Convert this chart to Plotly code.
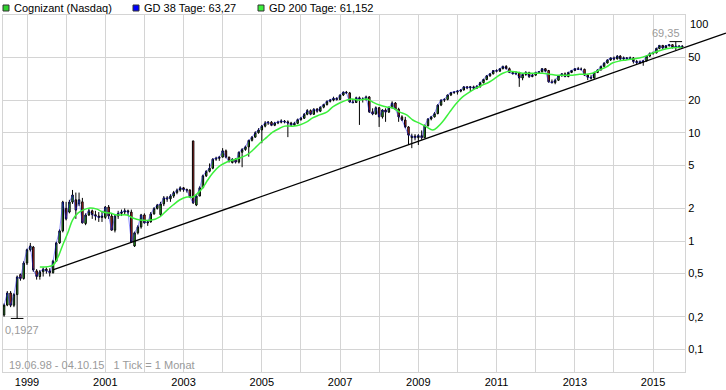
import math
import pandas as pd
import plotly.graph_objects as go

# ---------------- data (monthly candles, Jun 1998 - Oct 2015) ----------------
months = pd.date_range("1998-06-01", "2015-10-01", freq="MS")

open_ = [
    0.207, 0.256, 0.331, 0.255, 0.320, 0.490, 0.450,
    0.626, 0.830, 0.880, 0.530, 0.470, 0.520, 0.550, 0.530, 0.510, 0.650, 0.960, 1.240,
    2.000, 1.850, 2.290, 2.400, 2.200, 2.300, 1.450, 1.740, 1.900, 1.750, 1.700, 1.650,
    1.650, 2.060, 1.700, 1.260, 1.700, 1.800, 1.850, 1.900, 1.850, 0.900, 1.190, 1.350,
    1.740, 1.470, 1.500, 1.780, 2.000, 1.750, 2.200, 2.500, 2.450, 2.600, 2.800, 2.950,
    3.100, 2.980, 2.960, 8.400, 2.150, 2.600, 3.100, 4.000, 4.400, 4.700, 5.700, 5.800,
    5.950, 6.800, 5.950, 5.300, 5.700, 5.350, 6.600, 7.000, 7.400, 8.500, 9.100, 10.00,
    10.60, 11.50, 12.30, 12.50, 11.70, 12.30, 12.50, 12.80, 12.60, 12.30, 11.80, 12.20,
    13.20, 13.60, 14.80, 16.00, 14.80, 16.50, 15.80, 17.20, 18.20, 19.50, 20.00, 20.80,
    20.30, 22.30, 23.70, 23.30, 19.20, 19.00, 21.00, 20.50, 20.40, 21.40, 15.60, 14.90,
    17.00, 14.00, 16.20, 15.50, 17.00, 18.80, 16.50, 14.00, 13.10, 11.30, 9.000, 9.300,
    9.000, 9.400, 9.000, 11.60, 13.40, 14.00, 15.00, 18.00, 20.00, 20.30, 22.30, 23.50,
    23.70, 24.20, 24.80, 26.50, 26.00, 26.50, 25.80, 26.80, 29.00, 31.00, 33.50, 35.00,
    37.50, 37.00, 39.00, 41.00, 39.00, 36.00, 35.00, 35.50, 32.00, 34.50, 36.00, 33.00,
    34.00, 36.00, 36.50, 39.00, 37.50, 29.50, 29.00, 30.50, 33.50, 35.00, 33.00, 36.00,
    37.50, 39.00, 38.50, 38.50, 34.00, 32.50, 32.00, 36.00, 38.00, 41.00, 44.00, 47.00,
    49.00, 48.00, 51.00, 48.00, 49.00, 48.50, 49.00, 45.50, 44.50, 45.00, 46.00, 51.00,
    54.00, 54.50, 60.00, 64.00, 60.50, 63.50, 65.00, 61.00, 63.00, 62.00,
]
high = [
    0.265, 0.345, 0.345, 0.330, 0.480, 0.500, 0.650,
    0.850, 0.960, 0.900, 0.550, 0.540, 0.570, 0.570, 0.560, 0.670, 0.980, 1.280, 2.350,
    2.300, 2.400, 2.960, 2.800, 2.800, 2.500, 1.800, 2.000, 1.950, 1.900, 1.850, 1.900,
    2.100, 2.150, 1.800, 1.750, 1.900, 1.950, 2.000, 1.950, 1.950, 1.220, 1.400, 1.780,
    1.800, 1.550, 1.850, 2.050, 2.200, 2.300, 2.600, 2.600, 2.700, 2.900, 3.050, 3.200,
    3.150, 3.050, 3.000, 8.400, 2.700, 3.200, 4.100, 4.500, 5.200, 5.800, 6.000, 6.100,
    7.200, 7.000, 6.000, 5.800, 5.800, 6.700, 7.200, 7.600, 8.600, 9.300, 10.30, 11.00,
    11.80, 12.80, 12.80, 12.80, 12.60, 12.90, 13.30, 13.10, 13.00, 12.60, 12.60, 13.50,
    14.00, 15.20, 16.50, 16.40, 16.80, 16.90, 17.50, 18.50, 19.80, 20.50, 21.50, 21.20,
    22.50, 24.00, 24.30, 23.80, 20.50, 21.50, 21.60, 21.20, 22.00, 21.80, 16.80, 17.50,
    17.30, 16.50, 16.80, 17.50, 19.50, 19.20, 17.00, 14.50, 14.00, 11.50, 9.800, 9.700,
    9.700, 10.50, 11.90, 13.60, 14.30, 15.50, 18.30, 20.30, 20.80, 22.50, 23.80, 24.20,
    24.80, 25.20, 26.90, 27.00, 27.00, 27.20, 27.50, 29.50, 31.50, 34.00, 35.50, 37.80,
    38.50, 39.50, 41.50, 42.00, 40.00, 37.00, 37.00, 36.50, 35.00, 37.00, 36.50, 35.00,
    36.50, 37.00, 39.50, 39.50, 38.00, 31.00, 31.50, 34.00, 35.50, 36.00, 36.50, 38.00,
    39.50, 40.50, 40.00, 39.00, 34.50, 34.00, 36.50, 38.50, 41.50, 44.50, 47.50, 49.50,
    50.50, 52.00, 52.00, 50.50, 50.00, 50.50, 50.00, 47.00, 46.50, 47.00, 52.00, 55.00,
    56.00, 61.00, 64.50, 64.50, 64.50, 66.00, 65.50, 69.35, 64.50, 63.80,
]
low = [
    0.200, 0.250, 0.245, 0.245, 0.1927, 0.430, 0.440,
    0.600, 0.800, 0.520, 0.440, 0.440, 0.470, 0.500, 0.470, 0.500, 0.640, 0.940, 1.200,
    1.550, 1.800, 2.200, 1.600, 2.100, 1.450, 1.400, 1.700, 1.600, 1.550, 1.500, 1.500,
    1.600, 1.600, 1.250, 1.200, 1.600, 1.700, 1.750, 1.700, 0.960, 0.880, 1.150, 1.300,
    1.450, 1.380, 1.480, 1.750, 1.950, 1.700, 2.100, 2.300, 2.300, 2.500, 2.700, 2.850,
    2.850, 2.800, 2.500, 2.200, 2.100, 2.600, 3.100, 3.900, 4.300, 4.600, 5.500, 5.500,
    5.900, 5.800, 5.300, 5.200, 5.200, 5.200, 4.800, 6.800, 6.000, 8.300, 9.000, 9.800,
    8.000, 11.20, 11.80, 11.50, 11.50, 12.00, 12.20, 12.20, 9.100, 11.50, 11.60, 12.00,
    12.90, 13.40, 14.50, 14.50, 14.60, 15.30, 15.50, 16.80, 17.80, 19.00, 19.50, 19.80,
    20.00, 21.80, 22.80, 19.00, 18.60, 18.80, 11.80, 19.00, 19.80, 15.20, 14.50, 14.60,
    11.30, 13.50, 12.60, 15.20, 16.80, 16.20, 12.60, 12.80, 11.00, 7.700, 7.200, 8.500,
    7.700, 8.600, 8.900, 11.40, 13.00, 13.80, 14.80, 17.60, 19.20, 19.90, 21.80, 22.80,
    22.50, 23.60, 24.50, 25.20, 24.00, 25.00, 25.30, 26.00, 28.50, 30.50, 32.80, 34.50,
    36.00, 36.50, 38.50, 38.50, 35.50, 34.50, 34.00, 26.50, 30.50, 33.50, 32.00, 32.50,
    33.50, 35.00, 36.00, 36.50, 29.00, 28.50, 28.00, 30.00, 33.00, 32.50, 32.50, 35.50,
    37.00, 38.00, 37.50, 33.50, 30.60, 31.00, 31.50, 35.50, 37.50, 40.50, 43.50, 46.00,
    46.50, 47.50, 47.00, 46.50, 47.00, 47.50, 43.50, 43.00, 43.00, 41.50, 45.50, 50.00,
    52.50, 54.00, 59.00, 59.50, 60.00, 62.50, 60.00, 58.00, 60.00, 61.50,
]
close = [
    0.256, 0.331, 0.255, 0.320, 0.465, 0.450, 0.626,
    0.830, 0.900, 0.540, 0.470, 0.520, 0.550, 0.530, 0.510, 0.650, 0.960, 1.240, 2.290,
    1.600, 2.290, 2.660, 1.930, 2.400, 1.470, 1.740, 1.900, 1.750, 1.700, 1.650, 1.700,
    2.060, 1.700, 1.260, 1.700, 1.800, 1.850, 1.900, 1.850, 0.980, 1.190, 1.350, 1.740,
    1.470, 1.500, 1.780, 2.000, 2.150, 2.200, 2.500, 2.450, 2.600, 2.800, 2.950, 3.100,
    2.980, 2.950, 2.550, 2.250, 2.600, 3.100, 4.000, 4.400, 4.700, 5.700, 5.800, 5.950,
    6.800, 5.950, 5.450, 5.700, 5.350, 6.600, 7.000, 7.400, 8.500, 9.100, 10.00, 10.60,
    11.50, 12.30, 12.50, 11.70, 12.30, 12.50, 12.80, 12.60, 12.30, 11.80, 12.20, 13.20,
    13.60, 14.80, 16.00, 14.80, 16.50, 15.80, 17.20, 18.20, 19.50, 20.00, 20.80, 20.30,
    22.30, 23.70, 23.30, 19.20, 19.00, 21.00, 20.50, 20.40, 21.40, 15.60, 14.90, 17.00,
    14.00, 16.20, 15.50, 17.00, 18.80, 16.50, 14.00, 13.10, 11.30, 9.500, 9.300, 9.000,
    9.400, 9.000, 11.60, 13.40, 14.00, 15.00, 18.00, 20.00, 20.30, 22.30, 23.50, 23.70,
    24.20, 24.80, 26.50, 26.00, 26.50, 25.80, 26.80, 29.00, 31.00, 33.50, 35.00, 37.50,
    37.00, 39.00, 41.00, 39.00, 36.00, 35.00, 35.50, 32.00, 34.50, 36.00, 33.00, 34.00,
    36.00, 36.50, 39.00, 37.00, 29.50, 29.00, 30.50, 33.50, 35.00, 33.00, 36.00, 37.50,
    39.00, 38.50, 38.50, 34.00, 32.50, 32.00, 36.00, 38.00, 41.00, 44.00, 47.00, 49.00,
    48.00, 51.00, 48.00, 49.00, 48.50, 49.00, 45.50, 44.50, 45.00, 46.00, 51.00, 54.00,
    54.50, 60.00, 64.00, 60.50, 63.50, 65.00, 61.00, 63.00, 62.00, 63.00,
]

# GD 200 (200-day average)
gd200_dates = [
    "1999-05-01", "1999-09-01", "1999-10-15", "1999-12-01", "2000-01-20", "2000-03-01",
    "2000-04-20", "2000-06-05", "2000-08-10", "2000-10-15", "2000-12-10", "2001-02-15",
    "2001-04-20", "2001-07-20", "2001-09-15", "2001-11-20", "2002-03-10", "2002-05-25",
    "2002-08-01", "2002-09-25", "2002-11-25", "2003-02-01", "2003-03-28", "2003-05-15",
    "2003-06-28", "2003-08-15", "2003-10-01", "2003-12-05", "2004-02-10", "2004-04-05",
    "2004-06-10", "2004-08-15", "2004-10-10", "2004-12-15", "2005-02-18", "2005-04-12",
    "2005-06-18", "2005-08-04", "2005-10-15", "2005-12-20", "2006-02-25", "2006-04-20",
    "2006-06-25", "2006-08-30", "2006-10-25", "2006-12-28", "2007-03-03", "2007-04-20",
    "2007-07-01", "2007-09-05", "2007-11-01", "2008-01-05", "2008-03-10", "2008-05-08",
    "2008-07-12", "2008-09-14", "2008-11-10", "2009-01-15", "2009-03-18", "2009-05-15",
    "2009-07-01", "2009-08-15", "2009-10-20", "2009-12-25", "2010-02-18", "2010-04-23",
    "2010-06-28", "2010-08-22", "2010-10-26", "2011-01-01", "2011-02-28", "2011-05-01",
    "2011-07-05", "2011-09-01", "2011-11-03", "2012-01-08", "2012-03-06", "2012-05-10",
    "2012-07-13", "2012-09-08", "2012-12-10", "2013-02-13", "2013-04-19", "2013-06-14",
    "2013-08-18", "2013-10-23", "2013-12-17", "2014-02-20", "2014-04-27", "2014-06-21",
    "2014-08-25", "2014-10-30", "2014-12-28", "2015-03-01", "2015-05-05", "2015-07-01",
    "2015-10-01",
]
gd200 = [
    0.575, 0.60, 0.70, 0.92, 1.21, 1.56,
    1.81, 1.93, 2.02, 1.97, 1.85, 1.81,
    1.74, 1.74, 1.63, 1.56, 1.56, 1.67,
    1.93, 2.15, 2.39, 2.55, 2.55, 2.77,
    3.09, 3.66, 4.25, 4.93, 5.37, 5.59,
    5.84, 6.23, 6.92, 8.03, 9.10, 10.1,
    11.0, 11.5, 11.5, 11.8, 12.6, 13.7,
    14.6, 15.5, 17.3, 18.8, 20.0, 20.5,
    20.0, 20.5, 19.2, 18.0, 17.3, 16.9,
    15.5, 14.6, 13.1, 12.2, 11.3, 10.6,
    11.3, 12.6, 15.5, 18.8, 21.4, 23.7,
    25.9, 27.5, 29.4, 32.6, 35.4, 37.0,
    36.3, 35.4, 35.4, 35.4, 35.4, 34.7,
    34.0, 34.0, 34.0, 34.7, 34.7, 35.4,
    37.9, 40.5, 44.0, 45.9, 46.9, 47.9,
    48.9, 51.2, 54.5, 57.2, 59.6, 61.0,
    61.15,
]

# support trend line (two anchor points; it runs past the plot's right edge)
trend_dates = ["1999-08-30", "2016-11-11"]
trend_vals = [0.540, 83.3]

year_ticks = [f"{y}-01-01" for y in range(1999, 2016)]
year_labels = [str(y) if y % 2 == 1 else "" for y in range(1999, 2016)]
y_ticks = [0.1, 0.2, 0.5, 1, 2, 5, 10, 20, 50]
y_labels = ["0,1", "0,2", "0,5", "1", "2", "5", "10", "20", "50"]

legend_names = ["Cognizant (Nasdaq)", "GD 38 Tage: 63,27", "GD 200 Tage: 61,152"]
range_text = "19.06.98 - 04.10.15   1 Tick = 1 Monat"

# ---------------- styles / layout ----------------
UP = "#2fd12f"
DOWN = "#ee3131"
GD200_C = "#3cf03c"
GD38_C = "#1a1aff"
GRID = "#d4d4d4"
FONT = "Liberation Sans, Arial, sans-serif"
W, H = 726, 390
L, R, T, B = 3, 41, 15, 18
PW = W - L - R
PH = H - T - B
XR = ["1998-05-22", "2015-10-26"]
YR = [-1.2096, 2.0868]


def px(xp):
    return (xp - L) / PW


def py(yp):
    return (H - B - yp) / PH


fig = go.Figure()

fig.add_trace(go.Candlestick(
    x=months, open=open_, high=high, low=low, close=close,
    increasing=dict(fillcolor=UP, line=dict(color="black", width=1)),
    decreasing=dict(fillcolor=DOWN, line=dict(color="black", width=1)),
    whiskerwidth=0, showlegend=False))

fig.add_trace(go.Scatter(x=months, y=close, mode="lines",
                         line=dict(color=GD38_C, width=0.8), opacity=0.6,
                         hoverinfo="skip", showlegend=False))

fig.add_trace(go.Scatter(x=gd200_dates, y=gd200, mode="lines",
                         line=dict(color=GD200_C, width=1.5, shape="spline"),
                         hoverinfo="skip", showlegend=False))

imax = max(range(len(high)), key=lambda i: high[i])
imin = min(range(len(low)), key=lambda i: low[i])
fig.add_trace(go.Scatter(x=[months[imax], months[imin]], y=[high[imax], low[imin]],
                         mode="markers",
                         marker=dict(symbol="line-ew", size=9,
                                     line=dict(color="black", width=1)),
                         hoverinfo="skip", showlegend=False))

# trend line inside the plot (clipped at the frame)
fig.add_trace(go.Scatter(x=trend_dates, y=trend_vals, mode="lines",
                         line=dict(color="black", width=1.3),
                         hoverinfo="skip", showlegend=False))

axis_font = dict(family=FONT, size=11, color="black")
fig.update_layout(
    width=W, height=H,
    margin=dict(l=L, r=R, t=T, b=B, pad=0),
    paper_bgcolor="white", plot_bgcolor="white",
    showlegend=False,
    font=dict(family=FONT, size=11, color="black"),
    boxgap=0.3,
    xaxis=dict(type="date", range=XR,
               tickvals=year_ticks, ticktext=year_labels, tickfont=axis_font,
               showgrid=True, gridcolor=GRID, gridwidth=1,
               showline=True, mirror=True, linecolor=GRID, linewidth=1,
               ticks="", zeroline=False, rangeslider=dict(visible=False)),
    yaxis=dict(type="log", range=YR, side="right",
               tickvals=y_ticks, ticktext=y_labels, tickfont=axis_font,
               showgrid=True, gridcolor=GRID, gridwidth=1,
               showline=True, mirror=True, linecolor=GRID, linewidth=1,
               ticks="", zeroline=False),
)

# trend-line continuation beyond the frame (log-linear extension of the same line)
t0 = pd.Timestamp(trend_dates[0])
t1 = pd.Timestamp(trend_dates[1])
xa0, xa1 = pd.Timestamp(XR[0]), pd.Timestamp(XR[1])


def trend_log(t):
    f = (t - t0) / (t1 - t0)
    return math.log10(trend_vals[0]) + f * (math.log10(trend_vals[1]) - math.log10(trend_vals[0]))


def paper_x(t):
    return (t - xa0) / (xa1 - xa0)


def paper_y(lv):
    return (lv - YR[0]) / (YR[1] - YR[0])


shapes = [dict(type="line", xref="paper", yref="paper",
               x0=paper_x(xa1), y0=paper_y(trend_log(xa1)),
               x1=paper_x(t1), y1=paper_y(trend_log(t1)),
               line=dict(color="black", width=1.3))]

ann = []
ann.append(dict(text="100", xref="paper", x=px(688), xanchor="left",
                yref="y", y=2, yanchor="middle", showarrow=False, font=axis_font))
ann.append(dict(text=f"{high[imax]:.2f}".replace(".", ","), xref="x", x=months[imax],
                yref="y", y=math.log10(high[imax]), xanchor="center", xshift=-10,
                yanchor="bottom", yshift=1, showarrow=False,
                font=dict(family=FONT, size=11, color="#9a9a9a")))
ann.append(dict(text=f"{low[imin]:.4f}".replace(".", ","), xref="x", x=months[imin],
                yref="y", y=math.log10(low[imin]), xanchor="center", xshift=5,
                yanchor="top", yshift=-4, showarrow=False,
                font=dict(family=FONT, size=11, color="#9a9a9a")))
ann.append(dict(text=range_text, xref="paper", x=px(7), xanchor="left",
                yref="paper", y=py(365), yanchor="middle", showarrow=False,
                font=dict(family=FONT, size=11, color="#9a9a9a")))

# legend
leg_x = [3, 133, 258]
leg_cols = [UP, "#0000ff", GD200_C]
for lx, col, name in zip(leg_x, leg_cols, legend_names):
    shapes.append(dict(type="rect", xref="paper", yref="paper",
                       x0=px(lx), x1=px(lx + 6), y0=py(11), y1=py(5),
                       fillcolor=col, line=dict(color="#333333", width=1)))
    ann.append(dict(text=name, xref="paper", x=px(lx + 9), xanchor="left",
                    yref="paper", y=py(8), yanchor="middle", showarrow=False,
                    font=dict(family=FONT, size=11, color="black")))

fig.update_layout(annotations=ann, shapes=shapes)
fig.write_html("out.html", config={"displayModeBar": False},
               post_script="document.body.style.margin='0px';")
